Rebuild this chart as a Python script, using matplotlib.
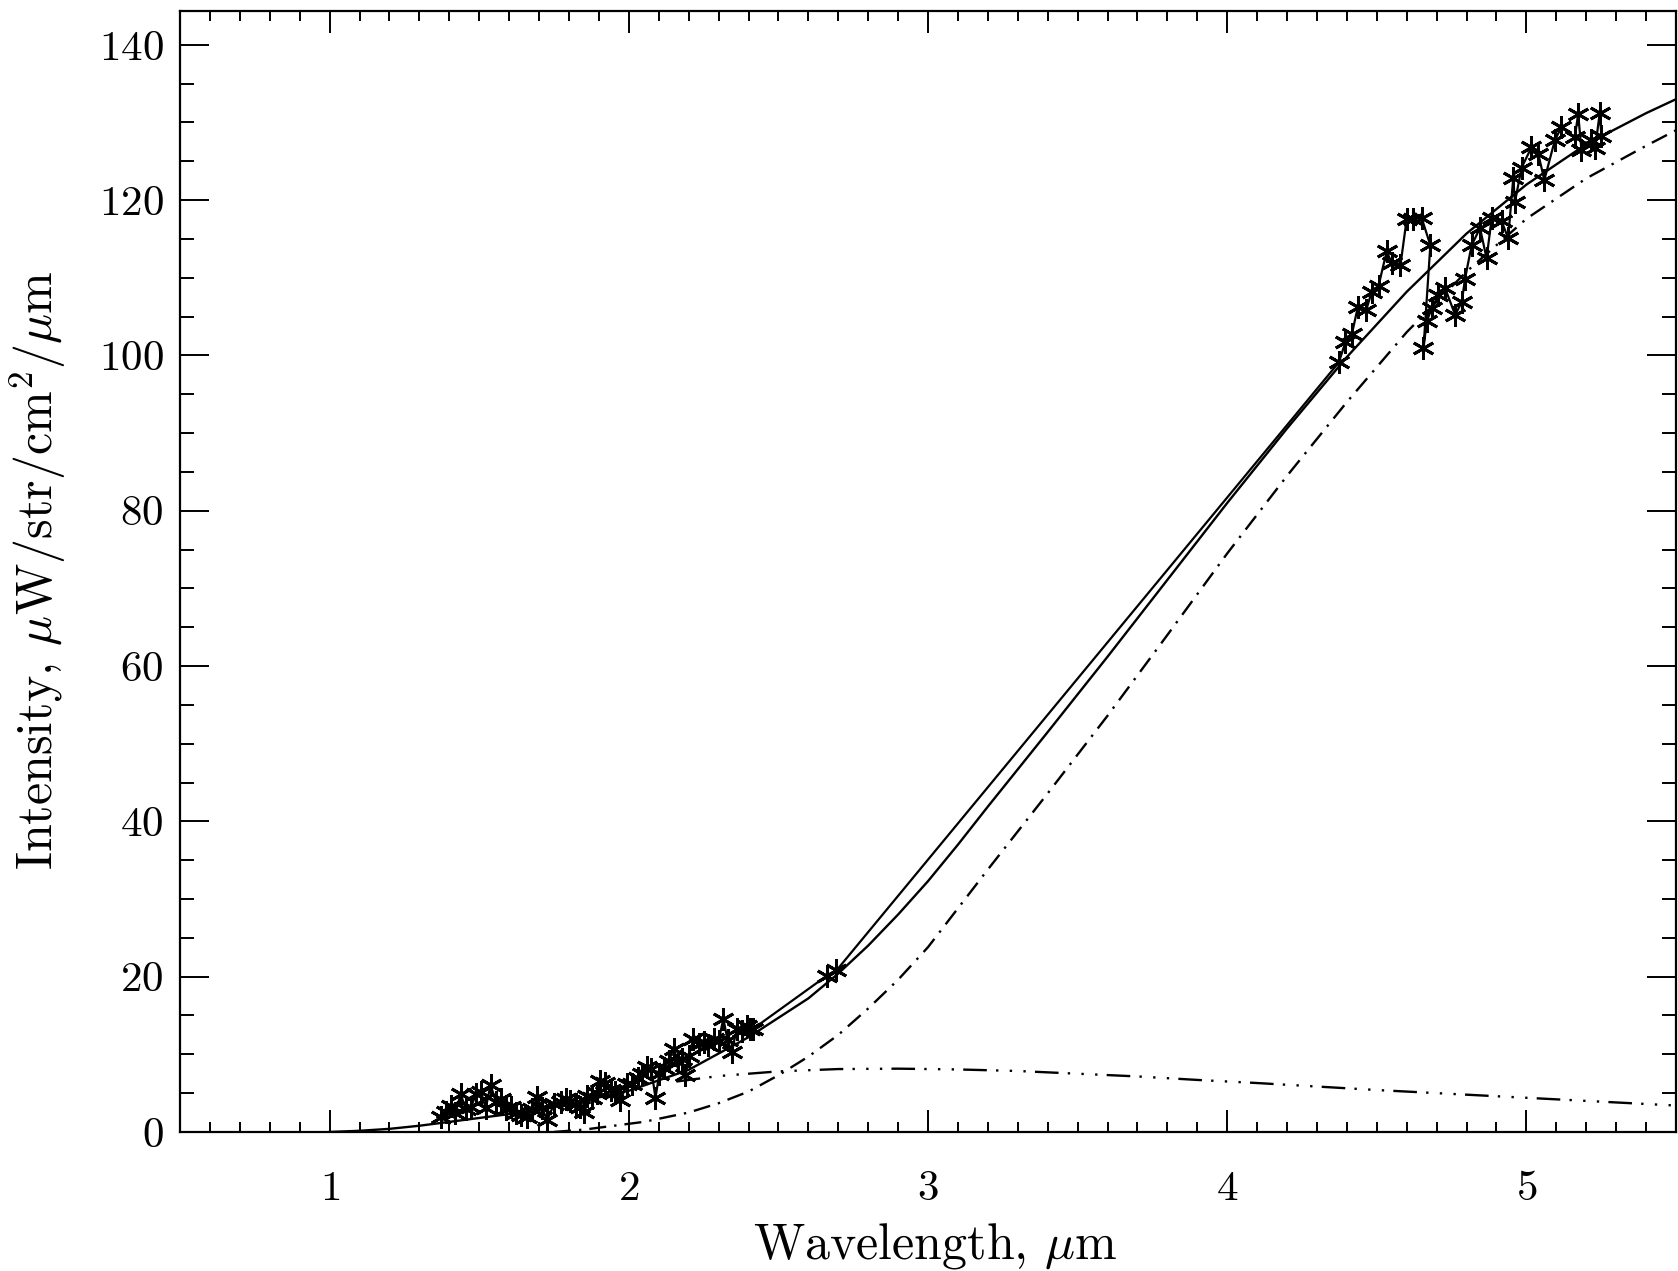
import matplotlib
matplotlib.use("Agg")
import matplotlib.pyplot as plt
from matplotlib.ticker import MultipleLocator

# ----------------------------
# Data
# ----------------------------
# measured spectrum, connected in order of wavelength
spec_x = [1.372, 1.390, 1.405, 1.420, 1.438, 1.455, 1.472, 1.490, 1.505, 1.522,
          1.538, 1.555, 1.572, 1.590, 1.605, 1.622, 1.640, 1.661, 1.678, 1.694,
          1.710, 1.727, 1.750, 1.772, 1.790, 1.805, 1.822, 1.838, 1.850, 1.861,
          1.878, 1.894, 1.905, 1.922, 1.939, 1.955, 1.972, 1.994, 2.010, 2.030,
          2.045, 2.061, 2.075, 2.089, 2.102, 2.116, 2.133, 2.150, 2.165, 2.178,
          2.189, 2.200, 2.216, 2.233, 2.250, 2.266, 2.283, 2.300, 2.316, 2.330,
          2.344, 2.361, 2.378, 2.394, 2.405, 2.416,
          2.661, 2.694,
          4.373, 4.395, 4.417, 4.437, 4.465, 4.483, 4.506, 4.533, 4.550, 4.579,
          4.600, 4.622, 4.650, 4.679,
          4.656, 4.667, 4.684, 4.706, 4.728, 4.762, 4.784, 4.795, 4.817, 4.845,
          4.867, 4.884, 4.917, 4.939, 4.956, 4.962, 4.984, 5.017, 5.040, 5.060,
          5.095, 5.117, 5.162, 5.173, 5.184, 5.217, 5.230, 5.245, 5.251]
spec_y = [1.9, 2.6, 3.3, 2.4, 4.9, 2.9, 3.2, 4.9, 5.1, 3.1,
          6.1, 3.9, 4.3, 2.9, 3.2, 2.4, 2.2, 1.9, 3.0, 4.5,
          3.1, 1.5, 3.6, 3.8, 4.3, 4.0, 3.6, 3.2, 2.6, 4.6,
          4.4, 5.0, 6.6, 6.3, 5.4, 5.2, 4.1, 6.2, 6.2, 6.9,
          7.5, 8.4, 8.1, 4.4, 7.5, 8.2, 9.2, 10.7, 9.0, 9.4,
          7.3, 9.8, 12.0, 11.3, 11.6, 11.2, 12.0, 11.7, 14.6, 11.8,
          10.3, 13.3, 13.0, 13.7, 13.2, 13.3,
          20.1, 20.8,
          99.1, 101.7, 102.8, 106.3, 105.9, 108.2, 109.0, 113.4, 111.9, 111.6,
          117.6, 117.6, 117.7, 114.2,
          100.9, 104.4, 106.1, 107.8, 108.7, 105.2, 106.9, 109.9, 114.2, 116.4,
          112.5, 117.7, 117.3, 115.1, 122.8, 119.8, 124.2, 126.8, 125.9, 122.6,
          127.7, 129.4, 128.1, 131.1, 126.5, 127.7, 126.7, 131.2, 128.2]

# total model fit (solid)
fit_x = [1.0, 1.1, 1.2, 1.3, 1.4, 1.6, 1.8, 2.0, 2.2, 2.4, 2.6, 2.7, 2.8, 2.9,
         3.0, 3.1, 3.2, 3.4, 3.6, 3.8, 4.0, 4.2, 4.4, 4.6, 4.8, 5.0, 5.2, 5.4,
         5.5]
fit_y = [0.0, 0.15, 0.4, 0.8, 1.3, 2.3, 3.6, 5.3, 8.0, 12.2, 17.2, 20.4, 24.0,
         28.0, 32.3, 37.0, 41.9, 51.5, 61.2, 71.1, 81.0, 90.6, 99.8, 108.2,
         115.7, 122.0, 127.2, 131.2, 133.0]

# cool component (dash-dot)
cool_x = [1.75, 1.85, 1.95, 2.05, 2.2, 2.3, 2.4, 2.5, 2.6, 2.7, 2.8, 2.9, 3.0,
          3.2, 3.4, 3.6, 3.8, 4.0, 4.2, 4.4, 4.6, 4.8, 5.0, 5.2, 5.4, 5.5]
cool_y = [0.0, 0.3, 0.8, 1.3, 2.5, 3.7, 5.2, 7.3, 9.7, 12.5, 15.9, 19.6, 23.8,
          33.8, 43.6, 53.6, 64.0, 74.5, 84.5, 94.0, 103.0, 110.8, 117.6, 122.8,
          127.0, 129.0]

# hot component (dash-dot-dot-dot)
hot_x = [2.16, 2.3, 2.5, 2.7, 2.9, 3.1, 3.3, 3.5, 3.7, 3.9, 4.1, 4.3, 4.5,
         4.7, 4.9, 5.1, 5.3, 5.5]
hot_y = [6.5, 7.2, 7.8, 8.1, 8.15, 8.05, 7.85, 7.5, 7.15, 6.7, 6.3, 5.85, 5.4,
         5.0, 4.6, 4.2, 3.8, 3.4]

# ----------------------------
# Style
# ----------------------------
plt.rcParams['font.family'] = 'cmr10'
plt.rcParams['mathtext.fontset'] = 'cm'
plt.rcParams['axes.formatter.use_mathtext'] = True

fig = plt.figure(figsize=(16.78, 12.71), dpi=100)
ax = fig.add_axes([0.1073, 0.1094, 0.8915, 0.8822])

ax.plot(fit_x, fit_y, color="black", lw=1.7)
ax.plot(cool_x, cool_y, color="black", lw=1.7, dashes=[7.2, 3.4, 1, 3.4])
ax.plot(hot_x, hot_y, color="black", lw=1.7,
        dashes=[10, 3.9, 1, 4.8, 1, 4.8, 1, 3.9])
ax.plot(spec_x, spec_y, color="black", lw=1.6,
        marker=(6, 2, 0), ms=16, mew=2.1)

ax.set_xlim(0.5, 5.5)
ax.set_ylim(0, 144.4)
ax.xaxis.set_major_locator(MultipleLocator(1))
ax.xaxis.set_minor_locator(MultipleLocator(0.1))
ax.yaxis.set_major_locator(MultipleLocator(20))
ax.yaxis.set_minor_locator(MultipleLocator(5))

ax.tick_params(which="both", direction="in", top=True, right=True,
               width=1.4, colors="black")
ax.tick_params(axis="x", which="major", length=15.5, pad=28, labelsize=31)
ax.tick_params(axis="x", which="minor", length=7.5)
ax.tick_params(axis="y", which="major", length=21, pad=12, labelsize=31)
ax.tick_params(axis="y", which="minor", length=10)
for sp in ax.spines.values():
    sp.set_linewidth(1.6)

ax.set_xlabel(r"Wavelength, $\mu$m", fontsize=36)
ax.xaxis.set_label_coords(0.505, -0.079)
ax.set_ylabel(r"Intensity, $\mu$W/str/cm$^2$/$\mu$m", fontsize=36)
ax.yaxis.label.set_va("center")
ax.yaxis.set_label_coords(-0.0949, 0.501)

fig.savefig("out.png", dpi=100)
